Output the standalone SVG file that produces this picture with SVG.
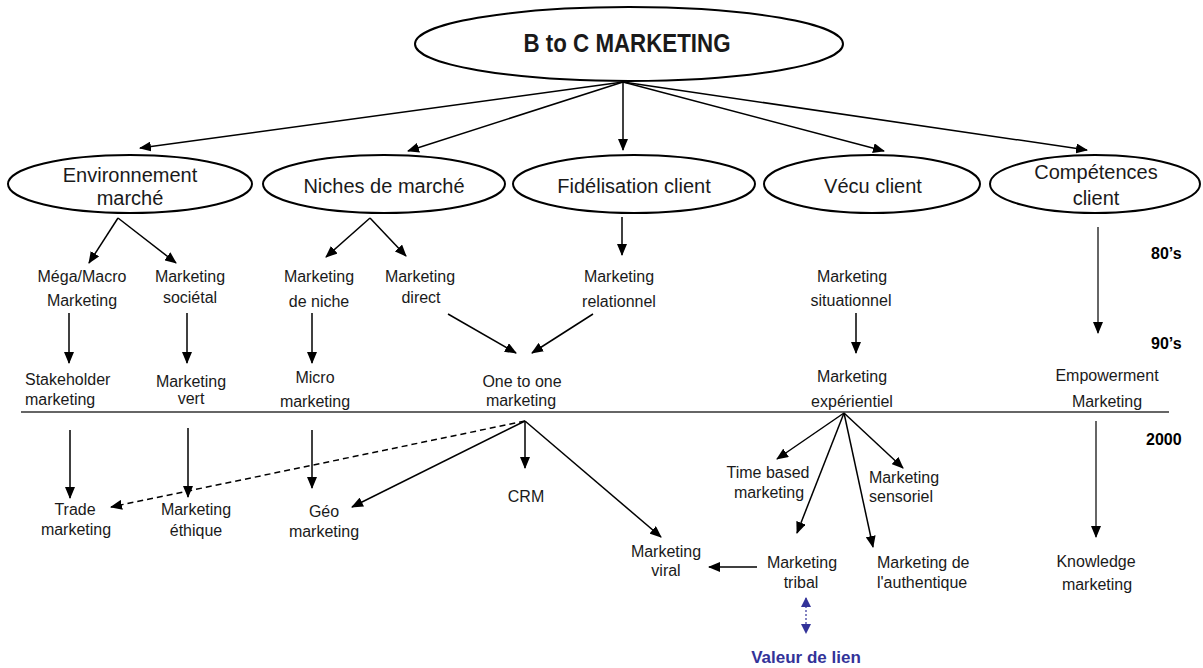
<svg xmlns="http://www.w3.org/2000/svg" width="1203" height="668" viewBox="0 0 1203 668">
<style>
text{font-family:"Liberation Sans",Arial,sans-serif;fill:#1a1a1a;text-anchor:middle}
.s{font-size:16px}
.l1{font-size:20px}
.b{font-weight:bold}
.yr{font-size:16px;font-weight:bold;text-anchor:start;fill:#000}
.el{fill:#fff;stroke:#000;stroke-width:2}
.c{stroke:#000;stroke-width:1.5;fill:none;marker-end:url(#ah)}
.d{stroke-dasharray:6 4}
.blue{fill:#333399}
</style>
<defs>
<marker id="ah" viewBox="0 0 12 10" refX="11" refY="5" markerWidth="12" markerHeight="10" markerUnits="userSpaceOnUse" orient="auto"><path d="M0,0 L12,5 L0,10 z" fill="#000"/></marker>
<marker id="bh" viewBox="0 0 10 10" refX="9" refY="5" markerWidth="10" markerHeight="10" markerUnits="userSpaceOnUse" orient="auto-start-reverse"><path d="M0,0 L10,5 L0,10 z" fill="#333399"/></marker>
</defs>
<rect width="1203" height="668" fill="#fff"/>

<g id="connectors">
<path class="c" d="M623,82 L140,148"/>
<path class="c" d="M623,82 L408,151"/>
<path class="c" d="M623,82 L623,150"/>
<path class="c" d="M623,82 L884,151"/>
<path class="c" d="M623,82 L1087,150"/>
<path class="c" d="M118,218 L89,263"/>
<path class="c" d="M118,218 L176,263"/>
<path class="c" d="M370,218 L326,257"/>
<path class="c" d="M370,218 L406,256"/>
<path class="c" d="M622,217 L622,255"/>
<path class="c" style="stroke:#333" d="M1098,227 L1098,333"/>
<path class="c" d="M69,313 L69,363"/>
<path class="c" d="M187,313 L187,363"/>
<path class="c" d="M312,313 L312,363"/>
<path class="c" d="M448,314 L516,353"/>
<path class="c" d="M593,314 L532,353"/>
<path class="c" d="M856,313 L856,353"/>
<line x1="21" y1="412" x2="1169" y2="412" stroke="#333" stroke-width="1.5"/>
<path class="c" d="M70,430 L70,498"/>
<path class="c" d="M188,428 L188,497"/>
<path class="c" d="M312,430 L312,488"/>
<path class="c d" d="M525,421 L111,507"/>
<path class="c" d="M525,421 L352,507"/>
<path class="c" d="M525,421 L525,468"/>
<path class="c" d="M525,421 L661,537"/>
<path class="c" d="M844,413 L777,459"/>
<path class="c" d="M844,413 L797,533"/>
<path class="c" d="M844,413 L873,547"/>
<path class="c" d="M844,413 L903,468"/>
<path class="c" d="M757,567 L709,567"/>
<path class="c" style="stroke:#333" d="M1096,421 L1096,537"/>
<path d="M806,598 L806,633" stroke="#333399" stroke-width="1.2" stroke-dasharray="2 2" fill="none" marker-start="url(#bh)" marker-end="url(#bh)"/>
</g>

<g id="root"><ellipse class="el" cx="629" cy="44" rx="214" ry="37"/><text class="b" x="627" y="52" font-size="25" textLength="207" lengthAdjust="spacingAndGlyphs" fill="#000">B to C MARKETING</text></g>

<g id="env"><ellipse class="el" cx="130" cy="184" rx="122" ry="29"/><text class="l1" x="130" y="182">Environnement</text><text class="l1" x="130" y="205">marché</text></g>
<g id="niches"><ellipse class="el" cx="384" cy="184" rx="121" ry="29"/><text class="l1" x="384" y="193">Niches de marché</text></g>
<g id="fidel"><ellipse class="el" cx="634" cy="184" rx="121" ry="29"/><text class="l1" x="634" y="193">Fidélisation client</text></g>
<g id="vecu"><ellipse class="el" cx="872" cy="184" rx="108" ry="29"/><text class="l1" x="873" y="193">Vécu client</text></g>
<g id="comp"><ellipse class="el" cx="1095" cy="184" rx="105" ry="29"/><text class="l1" x="1096" y="179">Compétences</text><text class="l1" x="1096" y="205">client</text></g>

<g id="years"><text class="yr" x="1151" y="259">80’s</text><text class="yr" x="1151" y="349">90’s</text><text class="yr" x="1146" y="445">2000</text></g>

<g id="mega"><text class="s" x="82" y="282">Méga/Macro</text><text class="s" x="82" y="306">Marketing</text></g>
<g id="societal"><text class="s" x="190" y="282">Marketing</text><text class="s" x="190" y="303">sociétal</text></g>
<g id="niche"><text class="s" x="319" y="282">Marketing</text><text class="s" x="319" y="307">de niche</text></g>
<g id="direct"><text class="s" x="420" y="282">Marketing</text><text class="s" x="421" y="303">direct</text></g>
<g id="relationnel"><text class="s" x="619" y="282">Marketing</text><text class="s" x="619" y="307">relationnel</text></g>
<g id="situationnel"><text class="s" x="852" y="282">Marketing</text><text class="s" x="851" y="306">situationnel</text></g>

<g id="stakeholder"><text class="s" x="25" y="385" style="text-anchor:start">Stakeholder</text><text class="s" x="25" y="405" style="text-anchor:start">marketing</text></g>
<g id="vert"><text class="s" x="191" y="387">Marketing</text><text class="s" x="191" y="404">vert</text></g>
<g id="micro"><text class="s" x="315" y="383">Micro</text><text class="s" x="315" y="407">marketing</text></g>
<g id="onetoone"><text class="s" x="522" y="387">One to one</text><text class="s" x="521" y="406">marketing</text></g>
<g id="experientiel"><text class="s" x="852" y="382">Marketing</text><text class="s" x="852" y="407">expérientiel</text></g>
<g id="empowerment"><text class="s" x="1107" y="381">Empowerment</text><text class="s" x="1107" y="407">Marketing</text></g>

<g id="trade"><text class="s" x="75" y="515">Trade</text><text class="s" x="76" y="535">marketing</text></g>
<g id="ethique"><text class="s" x="196" y="515">Marketing</text><text class="s" x="196" y="536">éthique</text></g>
<g id="geo"><text class="s" x="324" y="517">Géo</text><text class="s" x="324" y="537">marketing</text></g>
<g id="crm"><text class="s" x="526" y="502">CRM</text></g>
<g id="viral"><text class="s" x="666" y="557">Marketing</text><text class="s" x="666" y="576">viral</text></g>
<g id="timebased"><text class="s" x="768" y="478">Time based</text><text class="s" x="769" y="498">marketing</text></g>
<g id="sensoriel"><text class="s" x="904" y="483">Marketing</text><text class="s" x="869" y="502" style="text-anchor:start">sensoriel</text></g>
<g id="tribal"><text class="s" x="802" y="568">Marketing</text><text class="s" x="801" y="588">tribal</text></g>
<g id="authentique"><text class="s" x="877" y="568" style="text-anchor:start">Marketing de</text><text class="s" x="877" y="588" style="text-anchor:start">l'authentique</text></g>
<g id="knowledge"><text class="s" x="1096" y="567">Knowledge</text><text class="s" x="1097" y="590">marketing</text></g>
<g id="valeur"><text class="b blue" x="806" y="663" font-size="17">Valeur de lien</text></g>
</svg>
